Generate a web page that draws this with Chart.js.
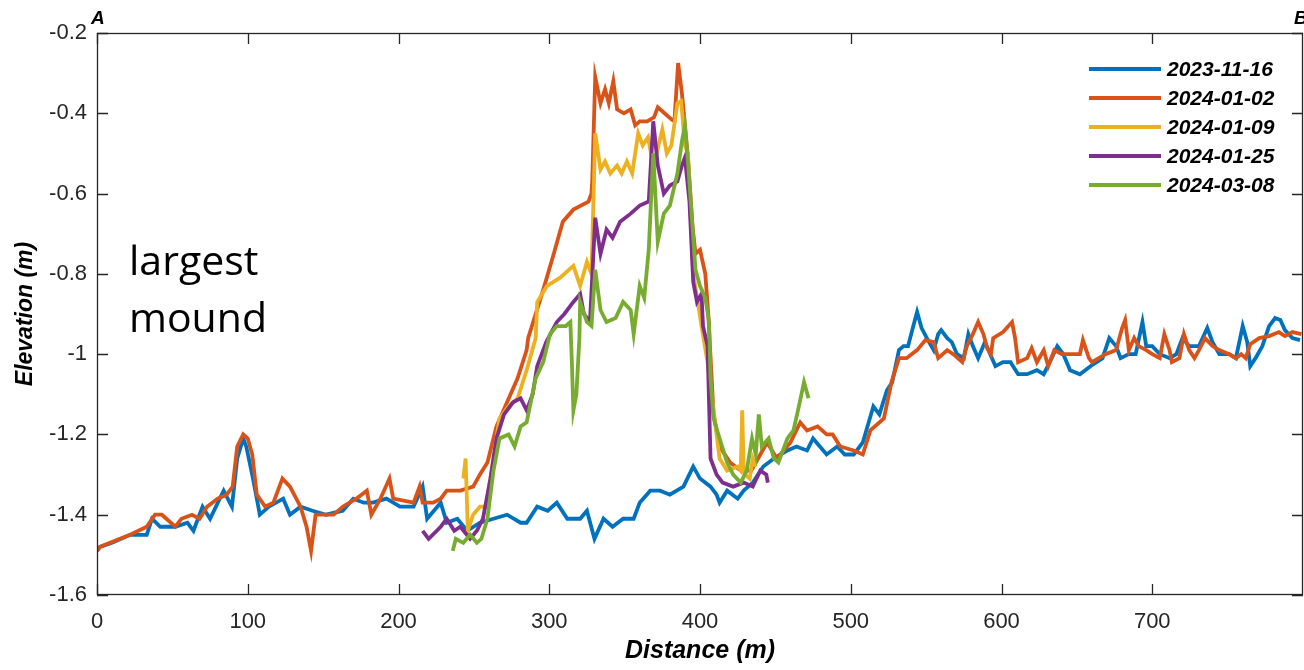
<!DOCTYPE html>
<html lang="en">
<head>
<meta charset="UTF-8">
<title>Elevation profile A-B</title>
<script src="https://cdn.jsdelivr.net/npm/chart.js@4.4.1/dist/chart.umd.min.js"></script>
<style>
  html, body { margin: 0; padding: 0; background: #fff; }
  #wrap { position: relative; width: 1304px; height: 670px; overflow: hidden; }
  #note {
    position: absolute; left: 129px; top: 231px;
    font-family: "Open Sans", sans-serif; font-size: 41px; line-height: 57px; color: #000;
  }
</style>
</head>
<body>
<div id="wrap">
  <canvas id="chart" width="1304" height="670"></canvas>
  <div id="note">largest<br>mound</div>
</div>

<script>
// survey dates (legend labels)
const dates = ['2023-11-16', '2024-01-02', '2024-01-09', '2024-01-25', '2024-03-08'];
const colors = ['#0072BD', '#D95319', '#EDB120', '#7E2F8E', '#77AC30'];

// [distance (m), elevation (m)]
const nov16 = [
  [0,-1.49],[2,-1.48],[10,-1.47],[22,-1.45],[33,-1.45],[36.5,-1.41],[42,-1.43],[52,-1.43],[60,-1.42],
  [64,-1.44],[70,-1.38],[75,-1.41],[84,-1.34],[89.5,-1.38],[93,-1.26],[97,-1.21],[99,-1.23],[103.5,-1.31],
  [108,-1.40],[114,-1.38],[123.5,-1.36],[128,-1.40],[135,-1.38],[143,-1.39],[152,-1.40],[163,-1.39],
  [170,-1.36],[177,-1.37],[183,-1.37],[192,-1.36],[201,-1.38],[210,-1.38],[216,-1.33],[219,-1.41],
  [228,-1.37],[232,-1.42],[239,-1.41],[245.5,-1.44],[254,-1.42],[263,-1.41],[272,-1.40],[281,-1.42],
  [285,-1.42],[292,-1.38],[299,-1.39],[305,-1.37],[312,-1.41],[320.5,-1.41],[325,-1.39],[330,-1.46],
  [336,-1.41],[342,-1.43],[349,-1.41],[356,-1.41],[360,-1.37],[367,-1.34],[373.5,-1.34],[380,-1.35],
  [389,-1.33],[395.5,-1.28],[400,-1.31],[407,-1.33],[411,-1.35],[413,-1.37],[418,-1.34],[425,-1.36],
  [429,-1.34],[435,-1.32],[442,-1.28],[449,-1.26],[458,-1.24],[464,-1.23],[471,-1.24],[475,-1.21],
  [484,-1.25],[491,-1.23],[496,-1.25],[502,-1.25],[508,-1.22],[515,-1.13],[519,-1.15],[524,-1.09],
  [527.5,-1.07],[532,-0.99],[535,-0.98],[538,-0.98],[541.5,-0.93],[544,-0.895],[547,-0.935],[550.5,-0.96],
  [555,-0.99],[558,-0.95],[560,-0.94],[564,-0.96],[567,-0.97],[570.5,-1.00],[575,-1.01],[578,-0.95],
  [581,-0.98],[584.5,-1.01],[589,-0.97],[592.5,-1.00],[596,-1.03],[601,-1.02],[606,-1.02],[611,-1.05],
  [617,-1.05],[623.5,-1.04],[628,-1.05],[632,-1.02],[637,-0.98],[641,-1.00],[645.5,-1.04],[652,-1.05],
  [659,-1.03],[667,-1.01],[671.5,-0.96],[676,-0.98],[679,-1.01],[684.5,-1.00],[689,-1.00],[693.5,-0.92],
  [696,-0.98],[700,-0.98],[705,-1.00],[711.5,-1.01],[716,-1.00],[720,-0.96],[724.5,-0.98],[731,-0.98],
  [736.5,-0.935],[740,-0.97],[744.5,-1.00],[751,-1.00],[755.5,-1.01],[760,-0.93],[763,-0.97],[765,-1.03],
  [768.5,-1.01],[773,-0.98],[777.5,-0.93],[781.5,-0.91],[785,-0.915],[788,-0.94],[793,-0.96],[798,-0.965]
];

const jan02 = [
  [0,-1.49],[2,-1.48],[8.6,-1.47],[22,-1.45],[33,-1.43],[38.5,-1.40],[43,-1.40],[52,-1.43],[56,-1.41],
  [63,-1.40],[68,-1.41],[73,-1.38],[80,-1.36],[86,-1.35],[90,-1.33],[93,-1.23],[97,-1.20],[100,-1.21],
  [103,-1.25],[106,-1.35],[111.5,-1.38],[117,-1.37],[123,-1.31],[128,-1.33],[135,-1.38],[139,-1.43],
  [142,-1.49],[145,-1.40],[157,-1.40],[163,-1.38],[172,-1.36],[179,-1.34],[182,-1.40],[188,-1.36],
  [194,-1.31],[196.5,-1.36],[210,-1.37],[214,-1.33],[216,-1.37],[223,-1.37],[228,-1.36],[232,-1.34],
  [241,-1.34],[249.5,-1.33],[254,-1.30],[259,-1.27],[265,-1.18],[272,-1.12],[279,-1.06],[285,-0.99],
  [286,-0.96],[296,-0.84],[303,-0.75],[309,-0.67],[316,-0.64],[326,-0.62],[328,-0.60],[328.5,-0.57],
  [330.5,-0.31],[334,-0.375],[337,-0.34],[339.5,-0.375],[342.5,-0.32],[345,-0.39],[349.5,-0.40],
  [354,-0.39],[357,-0.43],[360,-0.42],[365,-0.42],[369.5,-0.41],[372,-0.385],[376.5,-0.40],[381,-0.415],
  [383,-0.42],[385.5,-0.275],[388,-0.35],[390,-0.43],[392,-0.51],[395,-0.68],[397,-0.75],[400,-0.74],
  [403.5,-0.80],[405.5,-0.90],[409,-1.15],[413,-1.23],[420,-1.27],[427,-1.29],[434,-1.29],[444.5,-1.22],
  [451,-1.26],[460,-1.22],[466.5,-1.17],[471,-1.19],[478,-1.18],[484,-1.20],[488,-1.20],[493,-1.23],
  [502,-1.24],[508,-1.25],[513,-1.19],[522,-1.16],[527,-1.07],[532,-1.01],[537,-1.01],[544,-0.99],
  [549.5,-0.965],[555,-0.97],[558,-1.01],[564,-0.99],[568,-1.00],[574,-1.02],[577,-0.98],[581,-0.95],
  [584.5,-0.92],[588,-0.95],[590.5,-0.985],[593,-1.00],[594.5,-0.96],[601,-0.945],[607,-0.92],[609,-0.96],
  [611,-1.02],[617,-1.01],[620,-0.985],[623.5,-1.02],[628,-0.99],[631,-1.03],[635,-0.99],[640,-1.00],
  [645.5,-1.00],[652,-1.00],[654,-0.965],[658,-1.01],[660,-1.02],[669,-1.00],[676,-0.99],[680,-0.935],
  [682,-0.915],[684.5,-0.99],[688,-0.96],[691,-0.98],[696,-0.99],[700,-1.00],[705,-1.01],[708,-0.95],
  [711.5,-0.99],[713,-1.02],[718,-1.01],[721,-0.95],[724.5,-0.99],[728,-1.01],[731,-0.99],[735,-0.96],
  [740,-0.98],[744.5,-0.99],[751,-1.00],[755.5,-1.01],[759,-1.00],[762,-1.01],[765,-0.975],[771,-0.96],
  [777.5,-0.955],[784,-0.945],[788,-0.955],[793,-0.945],[799,-0.95]
];

const jan09 = [
  [243,-1.31],[244.5,-1.26],[246,-1.44],[249.5,-1.40],[254,-1.38],[258,-1.38],[263,-1.26],[267,-1.16],
  [273,-1.13],[279,-1.11],[285,-1.04],[291,-0.96],[292,-0.87],[298.5,-0.83],[307,-0.81],[316,-0.78],
  [320.5,-0.83],[325,-0.77],[328,-0.80],[330.5,-0.45],[334,-0.54],[337,-0.52],[340.5,-0.55],[345,-0.53],
  [348,-0.55],[351.5,-0.52],[355,-0.55],[359,-0.45],[362,-0.48],[365.5,-0.46],[368,-0.51],[370,-0.52],
  [375,-0.44],[378,-0.50],[381,-0.48],[385,-0.375],[387.5,-0.37],[390,-0.48],[392,-0.50],[395.5,-0.80],
  [399,-0.88],[401,-0.93],[405,-1.02],[409,-1.14],[413,-1.26],[418,-1.29],[425,-1.28],[427,-1.29],
  [428,-1.14],[429,-1.29],[430,-1.30],[433,-1.31],[435,-1.26],[437,-1.28]
];

const jan25 = [
  [216,-1.44],[220,-1.46],[228,-1.43],[232,-1.41],[237,-1.44],[241,-1.43],[247.5,-1.46],[252,-1.44],
  [256,-1.41],[261,-1.31],[265,-1.21],[270,-1.15],[276,-1.12],[281,-1.11],[285,-1.14],[289,-1.10],
  [292,-1.03],[298,-0.97],[305,-0.92],[310,-0.90],[316,-0.87],[320.5,-0.85],[323,-0.90],[327,-0.92],
  [330.5,-0.66],[334,-0.75],[338,-0.69],[342,-0.71],[347,-0.67],[354,-0.65],[360,-0.63],[366,-0.62],
  [369,-0.42],[372,-0.53],[376,-0.60],[380,-0.58],[385,-0.57],[388,-0.53],[390,-0.51],[393,-0.62],
  [395.5,-0.82],[398,-0.87],[401,-0.85],[402,-0.93],[405,-0.98],[407,-1.26],[411,-1.30],[415,-1.32],
  [422,-1.33],[429,-1.32],[435,-1.33],[440,-1.29],[444,-1.30],[445,-1.32]
];

const mar08 = [
  [236,-1.49],[238,-1.46],[243,-1.47],[247.5,-1.45],[252,-1.47],[255,-1.46],[259,-1.41],[263,-1.29],
  [267,-1.21],[273,-1.20],[277,-1.23],[281,-1.18],[285,-1.17],[291,-1.06],[296,-1.02],[300.5,-0.95],
  [305,-0.93],[311,-0.93],[314,-0.92],[315,-1.02],[316,-1.14],[318,-1.10],[320,-0.96],[320.5,-0.87],
  [325,-0.92],[328,-0.93],[330.5,-0.79],[334,-0.89],[338,-0.92],[344,-0.91],[349,-0.87],[354,-0.89],
  [356,-0.95],[360,-0.83],[363,-0.86],[366,-0.74],[369,-0.50],[372,-0.72],[376,-0.65],[380,-0.63],
  [385,-0.55],[388,-0.47],[390,-0.43],[392,-0.52],[395,-0.68],[397,-0.79],[400,-0.83],[403.5,-0.86],
  [406,-0.92],[407,-1.06],[409,-1.16],[413,-1.21],[418,-1.27],[422,-1.30],[427,-1.32],[431,-1.29],
  [434.5,-1.21],[437,-1.25],[439,-1.15],[441,-1.23],[445.5,-1.21],[449,-1.26],[452,-1.27],[458,-1.21],
  [462,-1.19],[465,-1.14],[469,-1.07],[472,-1.11]
];

const profiles = [nov16, jan02, jan09, jan25, mar08];

// axis ticks
const xTicks = [0, 100, 200, 300, 400, 500, 600, 700];
const yTicks = [-0.2, -0.4, -0.6, -0.8, -1, -1.2, -1.4, -1.6];

const FONT = '"Liberation Sans", Arial, sans-serif';
const AXIS = '#262626';

// box, inward ticks, legend and A/B end labels (MATLAB look)
const matlabFrame = {
  id: 'matlabFrame',
  afterDraw(chart) {
    const { ctx, chartArea: a, scales: { x, y } } = chart;
    ctx.save();
    ctx.strokeStyle = AXIS;
    ctx.lineWidth = 1.3;
    ctx.strokeRect(a.left + 0.5, a.top + 0.5, a.right - a.left - 1, a.bottom - a.top - 1);
    ctx.beginPath();
    xTicks.forEach(v => {
      const px = Math.round(x.getPixelForValue(v)) + 0.5;
      ctx.moveTo(px, a.bottom); ctx.lineTo(px, a.bottom - 11);
      ctx.moveTo(px, a.top); ctx.lineTo(px, a.top + 11);
    });
    yTicks.forEach(v => {
      const py = Math.round(y.getPixelForValue(v)) + 0.5;
      ctx.moveTo(a.left, py); ctx.lineTo(a.left + 11, py);
      ctx.moveTo(a.right, py); ctx.lineTo(a.right - 11, py);
    });
    ctx.stroke();

    // legend
    ctx.font = 'italic bold 21px ' + FONT;
    ctx.textBaseline = 'middle';
    ctx.textAlign = 'left';
    chart.data.datasets.forEach((ds, i) => {
      const ly = 69 + i * 29;
      ctx.strokeStyle = ds.borderColor;
      ctx.lineWidth = 4;
      ctx.beginPath();
      ctx.moveTo(1089, ly); ctx.lineTo(1161, ly);
      ctx.stroke();
      ctx.fillStyle = '#000';
      ctx.fillText(ds.label, 1167, ly + 1);
    });

    // profile end labels
    ctx.font = 'italic bold 19px ' + FONT;
    ctx.textBaseline = 'alphabetic';
    ctx.fillText('A', 91, 24);
    ctx.fillText('B', 1294, 24);
    ctx.restore();
  }
};

new Chart(document.getElementById('chart'), {
  type: 'line',
  data: {
    datasets: profiles.map((p, i) => ({
      label: dates[i],
      data: p.map(d => ({ x: d[0], y: d[1] })),
      borderColor: colors[i],
      backgroundColor: colors[i],
      borderWidth: 3.8,
      pointRadius: 0,
      tension: 0,
      fill: false,
      order: profiles.length - i
    }))
  },
  options: {
    responsive: false,
    animation: false,
    layout: { padding: { top: 33, right: 1, left: 0, bottom: 0 } },
    plugins: { legend: { display: false }, tooltip: { enabled: false } },
    scales: {
      x: {
        type: 'linear', min: 0, max: 800,
        afterBuildTicks: s => { s.ticks = xTicks.map(v => ({ value: v })); },
        afterFit: s => { s.height = 75; },
        grid: { display: false, drawTicks: false },
        border: { display: false },
        ticks: { color: AXIS, font: { family: FONT, size: 22 }, padding: 14, maxRotation: 0, autoSkip: false },
        title: {
          display: true, text: 'Distance (m)', color: '#000',
          font: { family: FONT, size: 25, weight: 'bold', style: 'italic' },
          padding: { top: 0, bottom: 4 }
        }
      },
      y: {
        type: 'linear', min: -1.6, max: -0.2,
        afterBuildTicks: s => { s.ticks = yTicks.map(v => ({ value: v })); },
        afterFit: s => { s.width = 97; },
        grid: { display: false, drawTicks: false },
        border: { display: false },
        ticks: {
          color: AXIS, font: { family: FONT, size: 22 }, padding: 10, autoSkip: false,
          callback: v => String(Math.round(v * 10) / 10)
        },
        title: {
          display: true, text: 'Elevation (m)', color: '#000',
          font: { family: FONT, size: 23, weight: 'bold', style: 'italic' },
          padding: { top: 12, bottom: 0 }
        }
      }
    }
  },
  plugins: [matlabFrame]
});
</script>
</body>
</html>
